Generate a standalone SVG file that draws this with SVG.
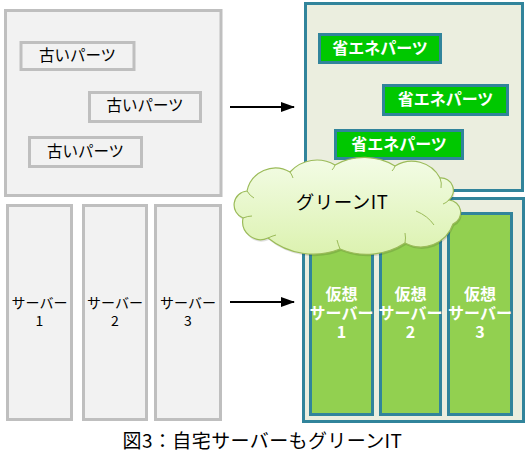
<svg xmlns="http://www.w3.org/2000/svg" width="526" height="463" viewBox="0 0 526 463">
<style>
.g{fill:#f2f2f2;stroke:#bfbfbf;stroke-width:3}
.t{fill:#ebeedf;stroke:#31849b;stroke-width:3}
.p{fill:#00c800;stroke:#31849b;stroke-width:3}
.v{fill:#92d050;stroke:#31849b;stroke-width:3}
text{font-family:"Noto Sans CJK JP","Noto Sans",sans-serif;text-anchor:middle}
.bk{fill:#000;font-size:15.5px}
.sv{fill:#000;font-size:14px}
.wb{fill:#fff;font-size:16px;font-weight:bold}
.ar{stroke:#000;stroke-width:2;fill:none}
</style>
<defs>
<marker id="ah" markerWidth="14" markerHeight="10" refX="13" refY="5" orient="auto" markerUnits="userSpaceOnUse">
<path d="M0,0 L14,5 L0,10 Z" fill="#000"/>
</marker>
<linearGradient id="cg" x1="0" y1="0" x2="0" y2="1">
<stop offset="0" stop-color="#f3fce6"/>
<stop offset="1" stop-color="#dcf2b0"/>
</linearGradient>
<path id="cl" d="M243,218 A14,14 0 0 1 247,191 A29,29 0 0 1 290,172 A36,36 0 0 1 335,165 A60,60 0 0 1 395,166 A32,32 0 0 1 440,178 A12.5,12.5 0 0 1 449,200 A12.5,12.5 0 0 1 453,224 A34,34 0 0 1 405,243 A70,70 0 0 1 340,249 A72,72 0 0 1 268,238 A18,18 0 0 1 243,218 Z"/>
</defs>
<g id="old-box">
<rect class="g" x="5.5" y="10.5" width="215.5" height="185"/>
</g>
<g id="old-part-1"><rect class="g" x="21" y="42.5" width="113" height="27"/><text class="bk" x="77.5" y="61">古いパーツ</text></g>
<g id="old-part-2"><rect class="g" x="89.5" y="92.5" width="111" height="29"/><text class="bk" x="145" y="111">古いパーツ</text></g>
<g id="old-part-3"><rect class="g" x="29.5" y="137.5" width="112" height="29"/><text class="bk" x="85.5" y="157">古いパーツ</text></g>
<g id="server-1"><rect class="g" x="7.5" y="205.5" width="64" height="214"/><text class="sv" x="39.5" y="308">サーバー</text><text class="sv" x="39.5" y="326">1</text></g>
<g id="server-2"><rect class="g" x="83.5" y="205.5" width="63" height="214"/><text class="sv" x="115" y="308">サーバー</text><text class="sv" x="115" y="326">2</text></g>
<g id="server-3"><rect class="g" x="155.5" y="205.5" width="65" height="214"/><text class="sv" x="188" y="308">サーバー</text><text class="sv" x="188" y="326">3</text></g>
<g id="new-box"><rect class="t" x="305.5" y="3.5" width="217" height="187"/></g>
<g id="eco-part-1"><rect class="p" x="319.5" y="34.5" width="121" height="28"/><text class="wb" x="380" y="54">省エネパーツ</text></g>
<g id="eco-part-2"><rect class="p" x="383.5" y="85.5" width="124" height="29"/><text class="wb" x="445.5" y="104.5">省エネパーツ</text></g>
<g id="eco-part-3"><rect class="p" x="335.5" y="130.5" width="127" height="28"/><text class="wb" x="399" y="149.5">省エネパーツ</text></g>
<g id="vm-box"><rect class="t" x="303.5" y="198.5" width="220" height="223"/></g>
<g id="vm-1"><rect class="v" x="310.5" y="213.5" width="62" height="201"/><text class="wb" x="341.5" y="300">仮想</text><text class="wb" x="341.5" y="319">サーバー</text><text class="wb" x="341.5" y="338">1</text></g>
<g id="vm-2"><rect class="v" x="380.5" y="213.5" width="60" height="201"/><text class="wb" x="410.5" y="300">仮想</text><text class="wb" x="410.5" y="319">サーバー</text><text class="wb" x="410.5" y="338">2</text></g>
<g id="vm-3"><rect class="v" x="448.5" y="213.5" width="63" height="201"/><text class="wb" x="480" y="300">仮想</text><text class="wb" x="480" y="319">サーバー</text><text class="wb" x="480" y="338">3</text></g>
<g id="cloud">
<use href="#cl" transform="translate(1,2)" fill="#000" opacity="0.12"/>
<use href="#cl" fill="url(#cg)" stroke="#9bbb59" stroke-width="1.2"/>
<g fill="none" stroke="#9bbb59" stroke-width="1">
<path d="M247,191 Q250,196 254,198"/>
<path d="M290,172 Q292,175 293,178"/>
<path d="M335,165 Q334,168 332,170"/>
<path d="M395,166 Q394,169 392,171"/>
<path d="M440,178 Q442,183 441,188"/>
<path d="M449,200 Q446,203 443,204"/>
<path d="M416,211 Q428,216 434,225"/>
<path d="M405,243 Q406,238 405,233"/>
<path d="M340,249 Q338,244 337,240"/>
<path d="M268,238 Q272,236 276,235"/>
<path d="M243,218 Q248,216 252,216"/>
</g>
<text x="342" y="209" style="font-size:18.5px;letter-spacing:0.5px;fill:#000">グリーンIT</text>
</g>
<g id="connectors">
<line class="ar" x1="230" y1="107" x2="294" y2="107" marker-end="url(#ah)"/>
<line class="ar" x1="230" y1="302" x2="294" y2="302" marker-end="url(#ah)"/>
</g>
<g id="caption"><text x="262.5" y="448" style="font-size:19px;letter-spacing:0.4px;fill:#000">図3：自宅サーバーもグリーンIT</text></g>
</svg>
